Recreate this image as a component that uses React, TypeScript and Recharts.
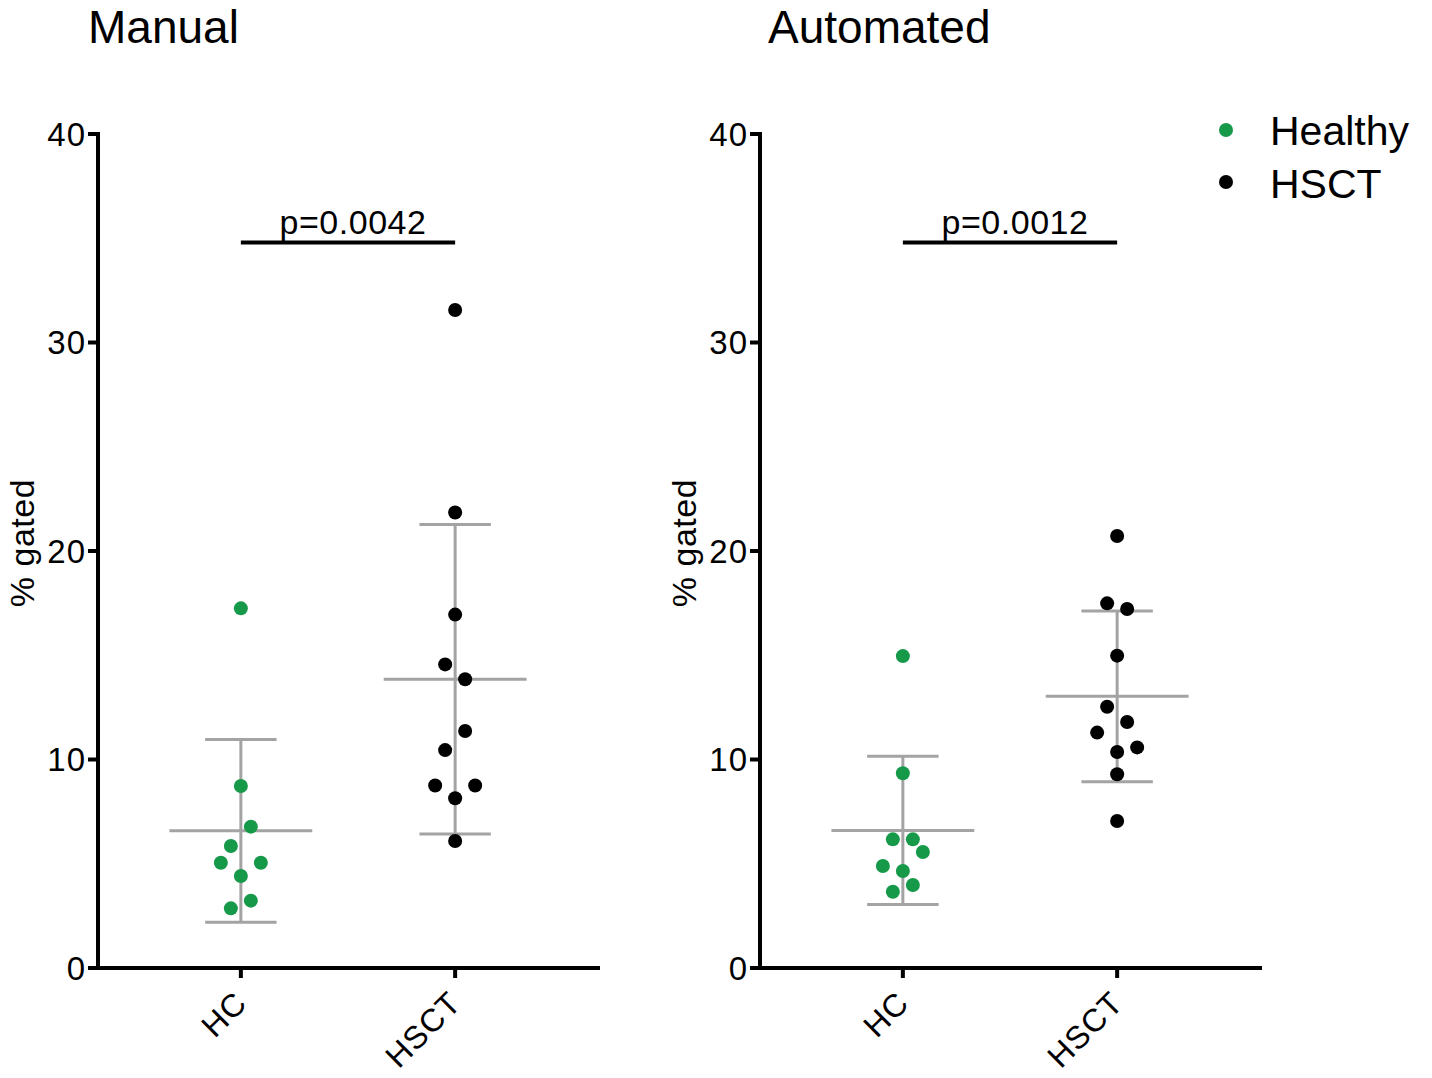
import { ScatterChart, Scatter, XAxis, YAxis, ReferenceLine } from "recharts";

const FONT = '"Liberation Sans", Arial, Helvetica, sans-serif';
const GREEN = "#17994a";
const GREY = "#a3a3a3";

const CATEGORIES = ["HC", "HSCT"];
const CATEGORY_X = [1, 2.5];
const Y_TICKS = [0, 10, 20, 30, 40];
const SLOT = 0.07; // horizontal step between dots sharing a row

// Manual gating
const MANUAL_HC = [17.25, 8.73, 6.78, 5.85, 5.05, 5.05, 4.41, 3.23, 2.86];
const MANUAL_HC_SLOTS = [0, 0, 1, -1, -2, 2, 0, 1, -1];
const MANUAL_HSCT = [31.56, 21.85, 16.95, 14.56, 13.85, 11.37, 10.45, 8.75, 8.75, 8.14, 6.09];
const MANUAL_HSCT_SLOTS = [0, 0, 0, -1, 1, 1, -1, -2, 2, 0, 0];

// Automated gating
const AUTO_HC = [14.96, 9.34, 6.17, 6.17, 5.56, 4.89, 4.65, 3.98, 3.66];
const AUTO_HC_SLOTS = [0, 0, -1, 1, 2, -2, 0, 1, -1];
const AUTO_HSCT = [20.72, 17.49, 17.22, 14.98, 12.53, 11.8, 11.29, 10.58, 10.36, 9.29, 7.05];
const AUTO_HSCT_SLOTS = [0, -1, 1, 0, -1, 1, -2, 2, 0, 0, 0];

const P_LABELS = ["p=0.0042", "p=0.0012"];
const P_BAR_Y = 34.8;

function meanSd(vals: number[]) {
  const m = vals.reduce((a, b) => a + b, 0) / vals.length;
  const v = vals.reduce((a, b) => a + (b - m) * (b - m), 0) / (vals.length - 1);
  return { mean: m, sd: Math.sqrt(v) };
}

const CategoryTick = (props: any) => {
  const { x, y, payload } = props;
  const label = CATEGORIES[CATEGORY_X.indexOf(payload.value)];
  const ax = x + 8;
  const ay = y + 25;
  return (
    <text x={ax} y={ay} transform={`rotate(-45 ${ax} ${ay})`} textAnchor="end" fontSize={32} letterSpacing={1} fontFamily={FONT} fill="#000">
      {label}
    </text>
  );
};

const dot = (color: string) => (p: any) => <circle cx={p.cx} cy={p.cy} r={7} fill={color} />;

function errorBars(cx: number, vals: number[], key: string) {
  const { mean, sd } = meanSd(vals);
  const style = { stroke: GREY, strokeWidth: 3 };
  return [
    <ReferenceLine key={key + "m"} segment={[{ x: cx - 0.5, y: mean }, { x: cx + 0.5, y: mean }]} {...style} />,
    <ReferenceLine key={key + "v"} segment={[{ x: cx, y: mean - sd }, { x: cx, y: mean + sd }]} {...style} />,
    <ReferenceLine key={key + "t"} segment={[{ x: cx - 0.25, y: mean + sd }, { x: cx + 0.25, y: mean + sd }]} {...style} />,
    <ReferenceLine key={key + "b"} segment={[{ x: cx - 0.25, y: mean - sd }, { x: cx + 0.25, y: mean - sd }]} {...style} />,
  ];
}

interface PanelProps {
  hc: number[];
  hcSlots: number[];
  hsct: number[];
  hsctSlots: number[];
  pLabel: string;
}

function Panel({ hc, hcSlots, hsct, hsctSlots, pLabel }: PanelProps) {
  const hcData = hc.map((v, i) => ({ x: CATEGORY_X[0] + hcSlots[i] * SLOT, y: v }));
  const hsctData = hsct.map((v, i) => ({ x: CATEGORY_X[1] + hsctSlots[i] * SLOT, y: v }));
  const axisStyle = { stroke: "#000", strokeWidth: 4, strokeLinecap: "square" as const };
  return (
    <ScatterChart width={620} height={1078} margin={{ top: 134, right: 22, bottom: 30, left: 0 }}>
      <XAxis
        type="number"
        dataKey="x"
        domain={[0, 3.5]}
        ticks={CATEGORY_X}
        interval={0}
        height={80}
        tickSize={10}
        axisLine={axisStyle}
        tickLine={{ stroke: "#000", strokeWidth: 4 }}
        tick={<CategoryTick />}
      />
      <YAxis
        type="number"
        dataKey="y"
        domain={[0, 40]}
        ticks={Y_TICKS}
        interval={0}
        width={98}
        tickSize={10}
        tickMargin={2}
        axisLine={axisStyle}
        tickLine={{ stroke: "#000", strokeWidth: 4 }}
        tick={{ fontSize: 33, fill: "#000", fontFamily: FONT, letterSpacing: 1 }}
      />
      {errorBars(CATEGORY_X[0], hc, "hc")}
      {errorBars(CATEGORY_X[1], hsct, "hsct")}
      <ReferenceLine
        segment={[{ x: CATEGORY_X[0], y: P_BAR_Y }, { x: CATEGORY_X[1], y: P_BAR_Y }]}
        stroke="#000"
        strokeWidth={4}
        label={{ value: pLabel, position: "top", offset: 8, dx: 5, fontSize: 34, letterSpacing: 0.5, fill: "#000", fontFamily: FONT }}
      />
      <Scatter name="Healthy" data={hcData} shape={dot(GREEN)} isAnimationActive={false} />
      <Scatter name="HSCT" data={hsctData} shape={dot("#000")} isAnimationActive={false} />
    </ScatterChart>
  );
}

export default function App() {
  return (
    <div style={{ position: "absolute", left: 0, top: 0, width: 1432, height: 1078, background: "#fff", fontFamily: FONT }}>
      <div style={{ position: "absolute", left: 0, top: 0 }}>
        <Panel hc={MANUAL_HC} hcSlots={MANUAL_HC_SLOTS} hsct={MANUAL_HSCT} hsctSlots={MANUAL_HSCT_SLOTS} pLabel={P_LABELS[0]} />
      </div>
      <div style={{ position: "absolute", left: 662, top: 0 }}>
        <Panel hc={AUTO_HC} hcSlots={AUTO_HC_SLOTS} hsct={AUTO_HSCT} hsctSlots={AUTO_HSCT_SLOTS} pLabel={P_LABELS[1]} />
      </div>
      <svg width={1432} height={1078} style={{ position: "absolute", left: 0, top: 0, pointerEvents: "none" }}>
        <text x={88} y={43} fontSize={46} fontFamily={FONT} fill="#000">Manual</text>
        <text x={768} y={43} fontSize={46} fontFamily={FONT} fill="#000">Automated</text>
        <text x={34} y={543} transform="rotate(-90 34 543)" textAnchor="middle" fontSize={34} letterSpacing={0.5} fontFamily={FONT} fill="#000">% gated</text>
        <text x={696} y={543} transform="rotate(-90 696 543)" textAnchor="middle" fontSize={34} letterSpacing={0.5} fontFamily={FONT} fill="#000">% gated</text>
        <circle cx={1226} cy={130} r={7} fill={GREEN} />
        <text x={1270} y={145} fontSize={41} fontFamily={FONT} fill="#000">Healthy</text>
        <circle cx={1226} cy={182} r={7} fill="#000" />
        <text x={1270} y={198} fontSize={41} fontFamily={FONT} fill="#000">HSCT</text>
      </svg>
    </div>
  );
}
